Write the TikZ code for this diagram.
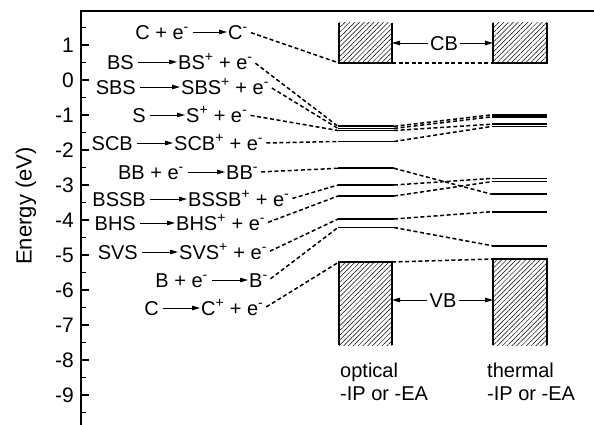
\documentclass[tikz,border=0pt]{standalone}
\usepackage{fontspec}
\setmainfont{Liberation Sans}
\usetikzlibrary{arrows.meta,patterns.meta}
\begin{document}
\begin{tikzpicture}[x=1pt,y=-1pt,
  lab/.style={font=\fontsize{20}{24}\selectfont, inner ysep=0pt, text height=18pt, text depth=3.6pt},
  lft/.style={lab, anchor=east, inner xsep=4pt},
  rgt/.style={lab, anchor=west, inner xsep=1pt},
  rarr/.style={line width=0.9pt, -{Triangle[length=8pt,width=4.5pt]}},
  dsh/.style={line width=1.5pt, dash pattern=on 4pt off 2.6pt},
  dshl/.style={dsh, shorten <=2pt},
  lvl/.style={line width=1.7pt},
  hbox/.style={draw=none, inner sep=0pt, outer sep=0pt, pattern={Lines[angle=45,distance=3.4pt,line width=0.5pt]}},
  boxline/.style={line width=1.8pt},
  bandlab/.style={lab, inner xsep=2pt},
  ticklab/.style={font=\fontsize{21}{25}\selectfont, anchor=east, inner xsep=0pt, inner ysep=0pt, text height=18.9pt, text depth=3.8pt}
]
\useasboundingbox (0,0) rectangle (594,425);

% axis
\draw[line width=1.4pt] (81,425) -- (81,11) -- (594,11);
\foreach \e [count=\i] in {1,0,-1,-2,-3,-4,-5,-6,-7,-8,-9} {
  \draw[line width=1.2pt] (81,{80-35*\e}) -- ++(8,0);
  \node[ticklab] (tick\i) at (74,{80-35*\e}) {\e};
}
\foreach \e in {1.5,0.5,-0.5,-1.5,-2.5,-3.5,-4.5,-5.5,-6.5,-7.5,-8.5,-9.5} {
  \draw[line width=1.2pt] (81,{80-35*\e}) -- ++(5,0);
}
\node[rotate=90, font=\fontsize{22}{26}\selectfont] (ylab) at (26,206) {Energy (eV)};

% reaction labels
\node[lft] (L1) at (193,32) {C + e\textsuperscript{-}};
\node[rgt] (R1) at (227,32) {C\textsuperscript{-}};
\node[lft] (L2) at (138,62) {BS};
\node[rgt] (R2) at (177,62) {BS\textsuperscript{+} + e\textsuperscript{-}};
\node[lft] (L3) at (140,87) {SBS};
\node[rgt] (R3) at (180,87) {SBS\textsuperscript{+} + e\textsuperscript{-}};
\node[lft] (L4) at (150,115) {S};
\node[rgt] (R4) at (185,115) {S\textsuperscript{+} + e\textsuperscript{-}};
\node[lft] (L5) at (137,143) {SCB};
\node[rgt] (R5) at (173,143) {SCB\textsuperscript{+} + e\textsuperscript{-}};
\node[lft] (L6) at (188,172) {BB + e\textsuperscript{-}};
\node[rgt] (R6) at (225,172) {BB\textsuperscript{-}};
\node[lft] (L7) at (150,199) {BSSB};
\node[rgt] (R7) at (187,199) {BSSB\textsuperscript{+} + e\textsuperscript{-}};
\node[lft] (L8) at (140,223) {BHS};
\node[rgt] (R8) at (175,223) {BHS\textsuperscript{+} + e\textsuperscript{-}};
\node[lft] (L9) at (142,252) {SVS};
\node[rgt] (R9) at (178,252) {SVS\textsuperscript{+} + e\textsuperscript{-}};
\node[lft] (L10) at (212,280) {B + e\textsuperscript{-}};
\node[rgt] (R10) at (248,280) {B\textsuperscript{-}};
\node[lft] (L11) at (163,308) {C};
\node[rgt] (R11) at (200,308) {C\textsuperscript{+} + e\textsuperscript{-}};
\foreach \i in {1,...,11} { \draw[rarr] (L\i.east) -- (R\i.west); }

% bands
\node[hbox, minimum width=53pt, minimum height=40pt] (ocb) at (365.5,43) {};
\node[hbox, minimum width=54pt, minimum height=40pt] (tcb) at (520,43) {};
\node[hbox, minimum width=53pt, minimum height=83pt] (ovb) at (365.5,303.5) {};
\node[hbox, minimum width=54pt, minimum height=86pt] (tvb) at (520,302) {};
\draw[boxline] (ocb.north west) -- (ocb.south west) -- (ocb.south east) -- (ocb.north east);
\draw[boxline] (tcb.north west) -- (tcb.south west) -- (tcb.south east) -- (tcb.north east);
\draw[boxline] (ovb.south west) -- (ovb.north west) -- (ovb.north east) -- (ovb.south east);
\draw[boxline] (tvb.south west) -- (tvb.north west) -- (tvb.north east) -- (tvb.south east);

\node[bandlab] (cb) at (444,43) {CB};
\draw[rarr] (cb.west) -- (ocb.east |- cb.west);
\draw[rarr] (cb.east) -- (tcb.west |- cb.east);
\node[bandlab] (vb) at (443,300) {VB};
\draw[rarr] (vb.west) -- (ovb.east |- vb.west);
\draw[rarr] (vb.east) -- (tvb.west |- vb.east);

\node[lab, anchor=west, inner xsep=0pt] (opt1) at (340,370) {optical};
\node[lab, anchor=west, inner xsep=0pt] (opt2) at (340,393) {-IP or -EA};
\node[lab, anchor=west, inner xsep=0pt] (th1) at (487,370) {thermal};
\node[lab, anchor=west, inner xsep=0pt] (th2) at (487,393) {-IP or -EA};

% optical levels
\foreach \n/\y in {2/126.3,3/128.4,4/130.5,5/141.5,6/168.3,7/185,8/196,9/219,10/227.5} {
  \coordinate (o\n l) at (338,\y);
  \coordinate (o\n r) at (394,\y);
  \draw[lvl] (o\n l) -- (o\n r);
}
% thermal levels
\foreach \n/\y in {2/114.8,3/116.8,4/124.2,5/126.4,6/194.3,7/178.4,8/181.6,9/211.7,10/245.7} {
  \coordinate (t\n l) at (492,\y);
  \coordinate (t\n r) at (547,\y);
  \draw[lvl] (t\n l) -- (t\n r);
}

% label -> optical
\draw[dshl] (R1.east) -- (ocb.south west);
\foreach \n in {2,...,10} { \draw[dshl] (R\n.east) -- (o\n l); }
\draw[dshl] (R11.east) -- (ovb.north west);

% optical -> thermal
\draw[dsh] (ocb.south east) -- (tcb.south west);
\foreach \n in {2,...,10} { \draw[dsh] (o\n r) -- (t\n l); }
\draw[dsh] (ovb.north east) -- (tvb.north west);
\end{tikzpicture}
\end{document}
